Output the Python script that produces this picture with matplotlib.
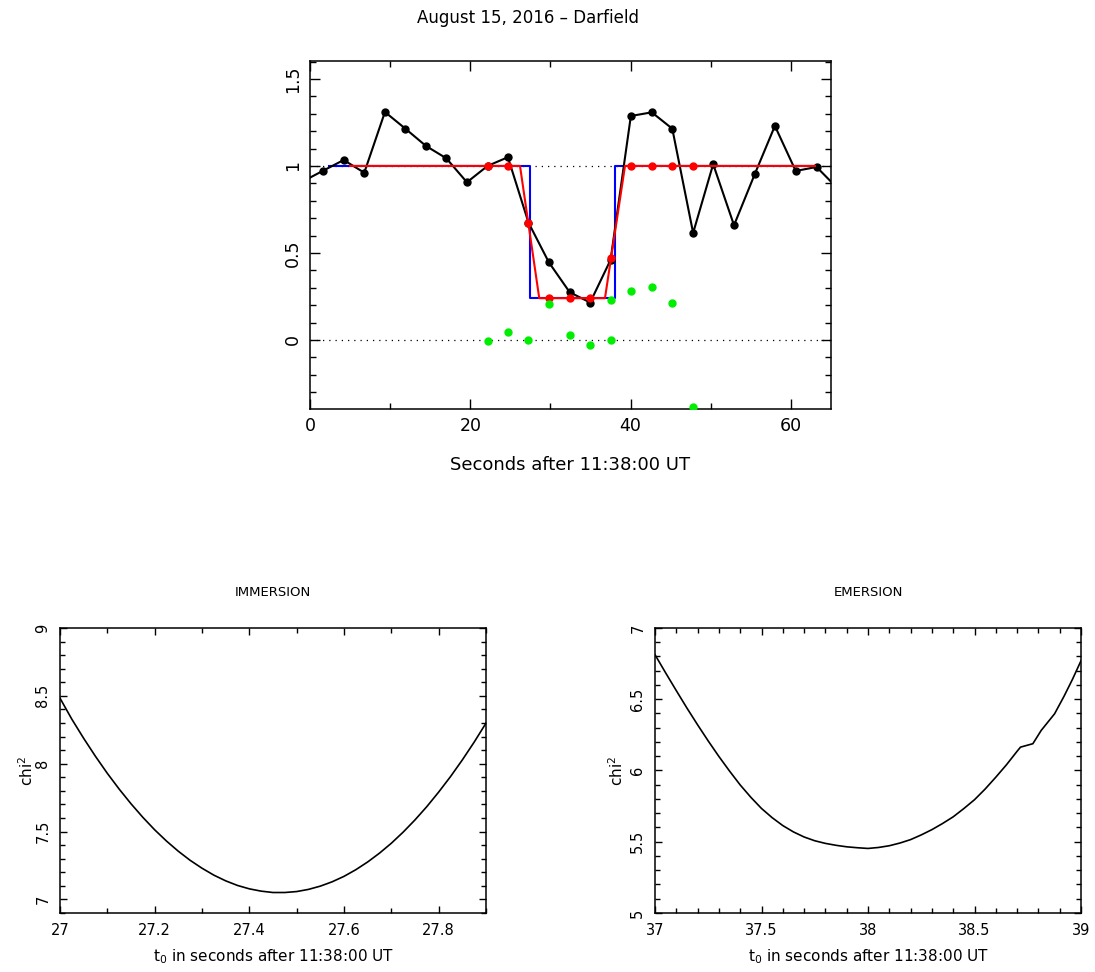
import matplotlib
matplotlib.use("Agg")
import matplotlib.pyplot as plt
from matplotlib.ticker import MultipleLocator, FuncFormatter

plt.rcParams['font.family'] = ['DejaVu Sans']

# ---------------- data ----------------
# light curve (black)
obs_t = [-0.9, 1.66, 4.2, 6.77, 9.35, 11.9, 14.46, 17.0, 19.58, 22.15, 24.69,
         27.26, 29.8, 32.4, 34.95, 37.5, 40.03, 42.64, 45.2, 47.8, 50.3, 52.9,
         55.5, 58.0, 60.6, 63.2, 65.76]
obs_flux = [0.911, 0.973, 1.034, 0.961, 1.310, 1.214, 1.115, 1.044, 0.906, 1.0,
            1.05, 0.674, 0.446, 0.274, 0.215, 0.46, 1.287, 1.308, 1.214, 0.615,
            1.01, 0.659, 0.954, 1.23, 0.971, 0.994, 0.874]

# square-well model (blue)
sq_t = [2.4, 27.46, 27.46, 38.0, 38.0, 63.0]
sq_flux = [1.0, 1.0, 0.24, 0.24, 1.0, 1.0]

# smoothed model (red line) and model values at sample times (red dots)
mod_t = [5.0, 26.2, 28.6, 36.8, 39.3, 63.0]
mod_flux = [1.0, 1.0, 0.24, 0.24, 1.0, 1.0]
modpt_t = [22.15, 24.69, 27.26, 29.8, 32.4, 34.95, 37.5, 40.03, 42.64, 45.2, 47.8]
modpt_flux = [1.0, 1.0, 0.674, 0.24, 0.24, 0.24, 0.47, 1.0, 1.0, 1.0, 1.0]

# residuals (green)
res_t = [22.15, 24.69, 27.26, 29.8, 32.4, 34.95, 37.5, 37.5, 40.03, 42.64, 45.2, 47.8]
res_val = [-0.006, 0.046, -0.002, 0.205, 0.029, -0.029, -0.002, 0.228, 0.282,
           0.306, 0.21, -0.387]

# chi^2 immersion
imm_t = [27.0, 27.025, 27.05, 27.075, 27.1, 27.125, 27.15, 27.175, 27.2,
         27.225, 27.25, 27.275, 27.3, 27.325, 27.35, 27.375, 27.4, 27.425,
         27.45, 27.475, 27.5, 27.525, 27.55, 27.575, 27.6, 27.625, 27.65,
         27.675, 27.7, 27.725, 27.75, 27.775, 27.8, 27.825, 27.85, 27.875, 27.9]
imm_chi2 = [8.483, 8.328, 8.187, 8.054, 7.929, 7.813, 7.705, 7.605, 7.513,
            7.430, 7.355, 7.288, 7.230, 7.179, 7.137, 7.103, 7.078, 7.061,
            7.051, 7.051, 7.058, 7.074, 7.098, 7.130, 7.170, 7.219, 7.276,
            7.341, 7.414, 7.496, 7.586, 7.684, 7.791, 7.905, 8.028, 8.159,
            8.299]

# chi^2 emersion
eme_t = [37.0, 37.05, 37.1, 37.15, 37.2, 37.25, 37.3, 37.35, 37.4, 37.45,
         37.5, 37.55, 37.6, 37.65, 37.7, 37.75, 37.8, 37.85, 37.9, 37.95,
         38.0, 38.05, 38.1, 38.15, 38.2, 38.25, 38.3, 38.35, 38.4, 38.45,
         38.5, 38.55, 38.6, 38.65, 38.7, 38.716, 38.774, 38.813, 38.876,
         38.92, 38.96, 39.0]
eme_chi2 = [6.8125, 6.685, 6.5605, 6.438, 6.3205, 6.207, 6.0985, 5.996, 5.8985,
            5.812, 5.7335, 5.669, 5.6135, 5.569, 5.5335, 5.507, 5.4885, 5.475,
            5.4645, 5.458, 5.453, 5.460, 5.472, 5.491, 5.515, 5.548, 5.585,
            5.628, 5.675, 5.733, 5.795, 5.87, 5.953, 6.04, 6.135, 6.164,
            6.188, 6.281, 6.398, 6.52, 6.64, 6.77]

# ---------------- figure ----------------
W, H = 1095, 972
fig = plt.figure(figsize=(W / 100, H / 100), dpi=100)


def px_axes(l, t, r, b):
    return fig.add_axes([l / W, 1 - b / H, (r - l) / W, (b - t) / H])


fmt = FuncFormatter(lambda v, p: '%g' % round(v, 6))


def style(ax, lsize, major_len, minor_len, pad):
    ax.tick_params(which='both', direction='in', top=True, right=True,
                   width=1.0, labelsize=lsize, pad=pad)
    ax.tick_params(which='major', length=major_len)
    ax.tick_params(which='minor', length=minor_len)
    for s in ax.spines.values():
        s.set_linewidth(1.1)
    ax.xaxis.set_major_formatter(fmt)
    ax.yaxis.set_major_formatter(fmt)
    for lbl in ax.get_yticklabels():
        lbl.set_rotation(90)
        lbl.set_va('center')


# top panel
ax = px_axes(310, 61, 831, 409)
ax.set_xlim(0, 65)
ax.set_ylim(-0.397, 1.603)
ax.axhline(1.0, color='black', lw=0.9, ls=(0, (1, 4)), zorder=1)
ax.axhline(0.0, color='black', lw=0.9, ls=(0, (1, 4)), zorder=1)
ax.plot(sq_t, sq_flux, color='#0000ff', lw=1.5, zorder=2)
ax.plot(obs_t, obs_flux, color='black', lw=1.5, marker='o', ms=5, zorder=3)
ax.plot(mod_t, mod_flux, color='#ff0000', lw=1.5, zorder=4)
ax.plot(modpt_t, modpt_flux, ls='none', marker='o', ms=5, color='#ff0000', zorder=5)
ax.plot(res_t, res_val, ls='none', marker='o', ms=5, color='#00ee00', zorder=6)
ax.xaxis.set_major_locator(MultipleLocator(20))
ax.xaxis.set_minor_locator(MultipleLocator(10))
ax.yaxis.set_major_locator(MultipleLocator(0.5))
ax.yaxis.set_minor_locator(MultipleLocator(0.1))
style(ax, 12.5, 7, 4, 6)
ax.set_xlabel('Seconds after 11:38:00 UT', fontsize=13)
ax.xaxis.set_label_coords(0.5, (409 - 465) / 348)
ax.xaxis.label.set_va('center')

fig.text(528 / W, 1 - 18 / H, 'August 15, 2016 \u2013 Darfield', fontsize=12,
         ha='center', va='center')

# bottom left: immersion
ax1 = px_axes(60, 628, 486, 913)
ax1.plot(imm_t, imm_chi2, color='black', lw=1.2)
ax1.set_xlim(27.0, 27.9)
ax1.set_ylim(6.9, 9.0)
ax1.xaxis.set_major_locator(MultipleLocator(0.2))
ax1.xaxis.set_minor_locator(MultipleLocator(0.1))
ax1.yaxis.set_major_locator(MultipleLocator(0.5))
ax1.yaxis.set_minor_locator(MultipleLocator(0.1))
style(ax1, 10.5, 5, 3.5, 7)
ax1.set_xlabel('t$_0$ in seconds after 11:38:00 UT', fontsize=11)
ax1.xaxis.set_label_coords(0.5, (913 - 957) / 285)
ax1.xaxis.label.set_va('center')
ax1.set_ylabel('chi$^2$', fontsize=11)
ax1.yaxis.set_label_coords((27 - 60) / 426, 0.5)
ax1.yaxis.label.set_va('center')
ax1.text(0.5, 1 + (628 - 593) / 285, 'IMMERSION', transform=ax1.transAxes,
         ha='center', va='center', fontsize=9.5)

# bottom right: emersion
ax2 = px_axes(655, 628, 1081, 913)
ax2.plot(eme_t, eme_chi2, color='black', lw=1.2)
ax2.set_xlim(37.0, 39.0)
ax2.set_ylim(5.0, 7.0)
ax2.xaxis.set_major_locator(MultipleLocator(0.5))
ax2.xaxis.set_minor_locator(MultipleLocator(0.1))
ax2.yaxis.set_major_locator(MultipleLocator(0.5))
ax2.yaxis.set_minor_locator(MultipleLocator(0.1))
style(ax2, 10.5, 5, 3.5, 7)
ax2.set_xlabel('t$_0$ in seconds after 11:38:00 UT', fontsize=11)
ax2.xaxis.set_label_coords(0.5, (913 - 957) / 285)
ax2.xaxis.label.set_va('center')
ax2.set_ylabel('chi$^2$', fontsize=11)
ax2.yaxis.set_label_coords((617 - 655) / 426, 0.5)
ax2.yaxis.label.set_va('center')
ax2.text(0.5, 1 + (628 - 593) / 285, 'EMERSION', transform=ax2.transAxes,
         ha='center', va='center', fontsize=9.5)

fig.savefig('out.png', dpi=100, facecolor='white')
